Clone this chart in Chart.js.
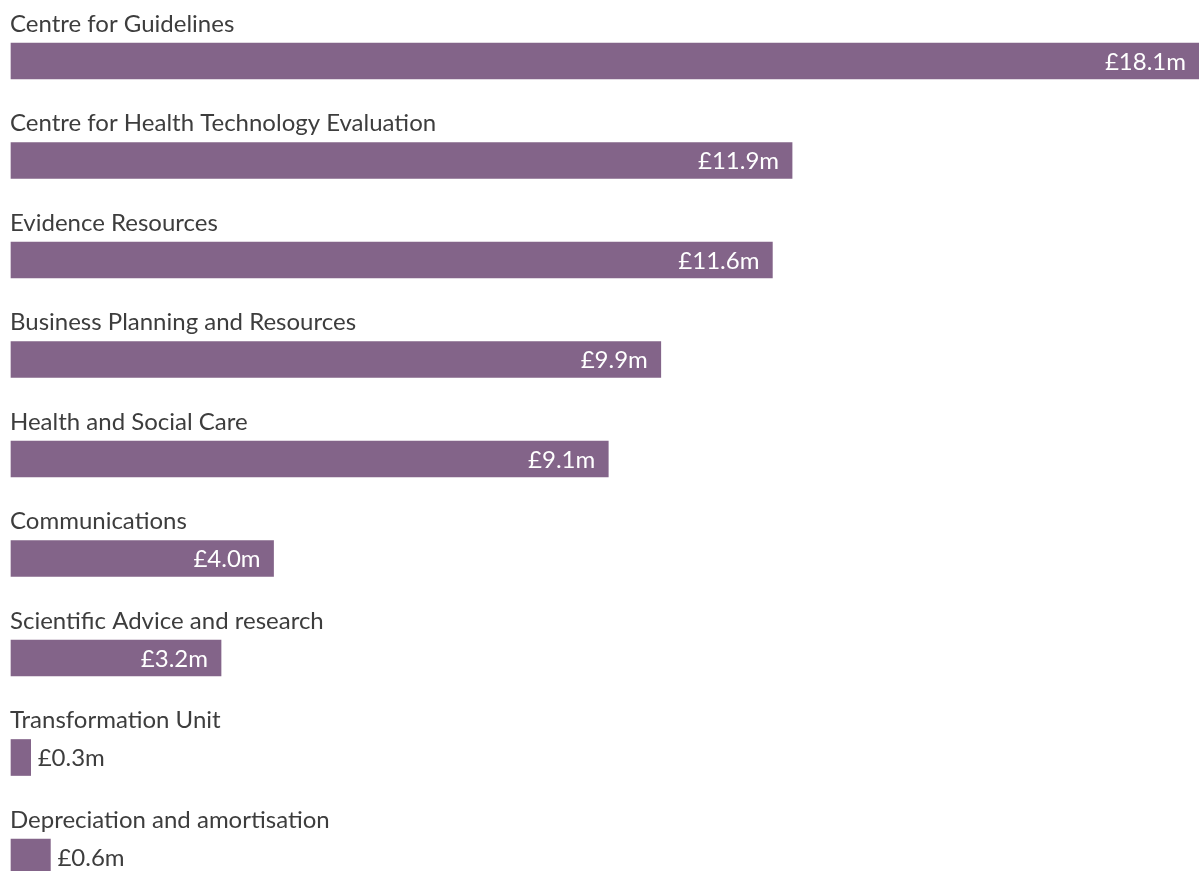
<!DOCTYPE html>
<html>
<head>
<meta charset="utf-8">
<script src="https://cdn.jsdelivr.net/npm/chart.js@4.4.0/dist/chart.umd.min.js"></script>
<style>
  html, body { margin: 0; padding: 0; background: #fff; overflow: hidden; }
  #wrap { width: 1199px; height: 871px; position: relative; }
</style>
</head>
<body>
<div id="wrap"><canvas id="chart"></canvas></div>
<script>
const categories = [
    'Centre for Guidelines',
    'Centre for Health Technology Evaluation',
    'Evidence Resources',
    'Business Planning and Resources',
    'Health and Social Care',
    'Communications',
    'Scientific Advice and research',
    'Transformation Unit',
    'Depreciation and amortisation'
];
const spend = [18.1, 11.9, 11.6, 9.9, 9.1, 4.0, 3.2, 0.3, 0.6];
const valueLabels = ['£18.1m', '£11.9m', '£11.6m', '£9.9m', '£9.1m', '£4.0m', '£3.2m', '£0.3m', '£0.6m'];

const barColour = '#836489';
const textColour = '#3d3d3d';
const fontFamily = 'Lato, "Open Sans", sans-serif';

// draws the category name above each bar and the value at the bar's end
const barText = {
    id: 'barText',
    afterDatasetsDraw(chart) {
        const ctx = chart.ctx;
        const meta = chart.getDatasetMeta(0);
        const x0 = chart.scales.x.getPixelForValue(0);
        ctx.save();
        ctx.font = '24px ' + fontFamily;
        ctx.textBaseline = 'middle';
        meta.data.forEach((bar, i) => {
            const top = bar.y - bar.height / 2;
            ctx.fillStyle = textColour;
            ctx.textAlign = 'left';
            ctx.fillText(categories[i], x0 - 1, top - 19);

            const label = valueLabels[i];
            const w = ctx.measureText(label).width;
            if (bar.x - x0 > w + 24) {
                ctx.fillStyle = '#ffffff';
                ctx.textAlign = 'right';
                ctx.fillText(label, bar.x - 13, bar.y + 1);
            } else {
                ctx.fillStyle = textColour;
                ctx.textAlign = 'left';
                ctx.fillText(label, bar.x + 7, bar.y + 1);
            }
        });
        ctx.restore();
    }
};

new Chart(document.getElementById('chart'), {
    type: 'bar',
    data: {
        labels: categories,
        datasets: [{
            data: spend,
            backgroundColor: barColour,
            borderWidth: 0,
            barThickness: 36,
            clip: false
        }]
    },
    options: {
        indexAxis: 'y',
        responsive: true,
        maintainAspectRatio: false,
        animation: false,
        layout: { padding: { left: 11, right: 0, top: 61, bottom: 14 } },
        plugins: {
            legend: { display: false },
            tooltip: { enabled: false }
        },
        scales: {
            x: { display: false, min: 0, max: 18.1, grid: { display: false } },
            y: { display: false, offset: false, grid: { display: false } }
        }
    },
    plugins: [barText]
});
</script>
</body>
</html>
